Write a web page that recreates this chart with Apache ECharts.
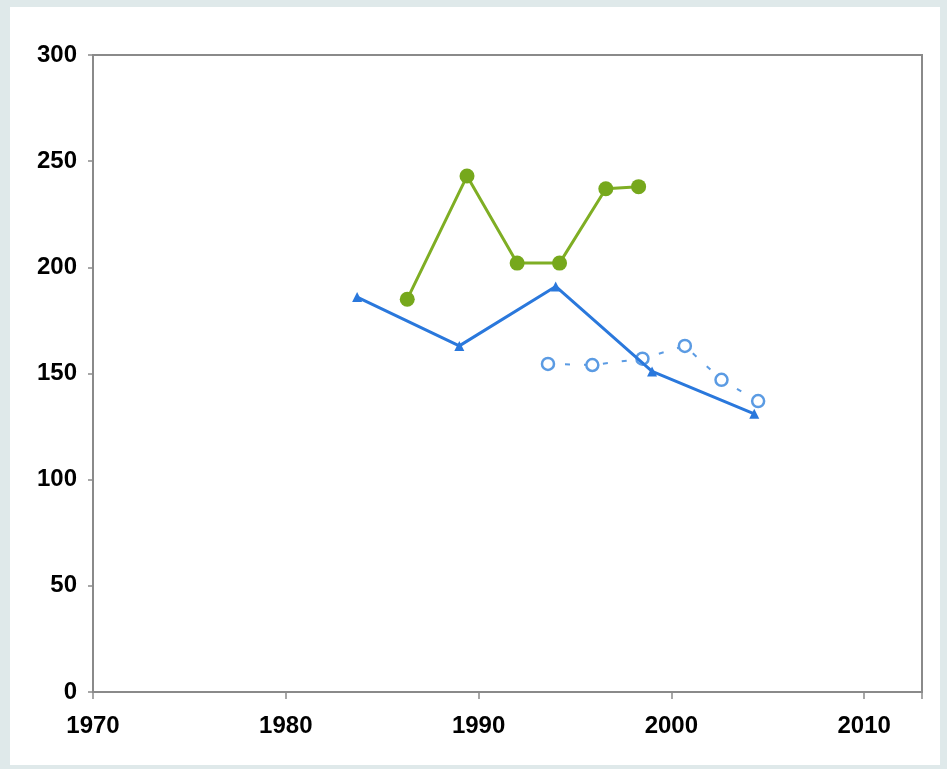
<!DOCTYPE html>
<html>
<head>
<meta charset="utf-8">
<script src="https://cdn.jsdelivr.net/npm/echarts@6/dist/echarts.min.js"></script>
<style>
html,body{margin:0;padding:0;background:#dfe9ea;}
#panel{position:absolute;left:10px;top:7px;width:930px;height:758px;background:#fff;}
#chart{position:absolute;left:0;top:0;width:947px;height:769px;}
</style>
</head>
<body>
<div id="panel"></div>
<div id="chart"></div>
<script>
// Green series (filled circles)
const greenYears = [1986.3, 1989.4, 1992.0, 1994.2, 1996.6, 1998.3];
const greenValues = [185, 243, 202, 202, 237, 238];
// Blue series (solid triangles)
const blueYears = [1983.7, 1989.0, 1994.0, 1999.0, 2004.3];
const blueValues = [186, 163, 191, 151, 131];
// Light blue series (hollow circles)
const hollowYears = [1993.6, 1995.9, 1998.5, 2000.7, 2002.6, 2004.5];
const hollowValues = [154.5, 154, 157, 163, 147, 137];
// Tick labels
const xTicks = [1970, 1980, 1990, 2000, 2010];
const yTicks = [0, 50, 100, 150, 200, 250, 300];

const zip = (a, b) => a.map((v, i) => [v, b[i]]);

const chart = echarts.init(document.getElementById('chart'));
const labelStyle = {color:'#000', fontWeight:'bold', fontSize:24, fontFamily:'Liberation Sans, Arial, sans-serif'};
chart.setOption({
  backgroundColor: 'transparent',
  animation: false,
  grid: {left: 93, top: 55, right: 25, bottom: 77, show: true, borderColor: '#8a8a8a', borderWidth: 2, backgroundColor: 'transparent'},
  xAxis: {
    type: 'value', min: 1970, max: 2013, interval: 10,
    axisLine: {show: true, lineStyle: {color: '#8a8a8a', width: 2}},
    axisTick: {show: true, length: 7, lineStyle: {color: '#8a8a8a', width: 1.5}},
    splitLine: {show: false},
    axisLabel: Object.assign({margin: 22, formatter: v => xTicks.includes(v) ? String(v) : ''}, labelStyle)
  },
  yAxis: {
    type: 'value', min: 0, max: 300, interval: 50,
    axisLine: {show: true, lineStyle: {color: '#8a8a8a', width: 2}},
    axisTick: {show: true, length: 5, lineStyle: {color: '#8a8a8a', width: 1.5}},
    splitLine: {show: false},
    axisLabel: Object.assign({margin: 16, formatter: v => yTicks.includes(v) ? String(v) : ''}, labelStyle)
  },
  series: [
    {
      type: 'line', data: zip(hollowYears, hollowValues),
      symbol: 'circle', symbolSize: 12,
      itemStyle: {color: '#fff', borderColor: '#5b9be3', borderWidth: 2.5},
      lineStyle: {color: '#5b9be3', width: 2, type: [5, 14], dashOffset: 2},
      z: 3
    },
    {
      type: 'line', data: zip(blueYears, blueValues),
      symbol: 'triangle', symbolSize: 10,
      itemStyle: {color: '#2a78dc'},
      lineStyle: {color: '#2a78dc', width: 3},
      z: 4
    },
    {
      type: 'line', data: zip(greenYears, greenValues),
      symbol: 'circle', symbolSize: 15,
      itemStyle: {color: '#76a81c'},
      lineStyle: {color: '#7fae24', width: 3},
      z: 5
    }
  ]
});
</script>
</body>
</html>
